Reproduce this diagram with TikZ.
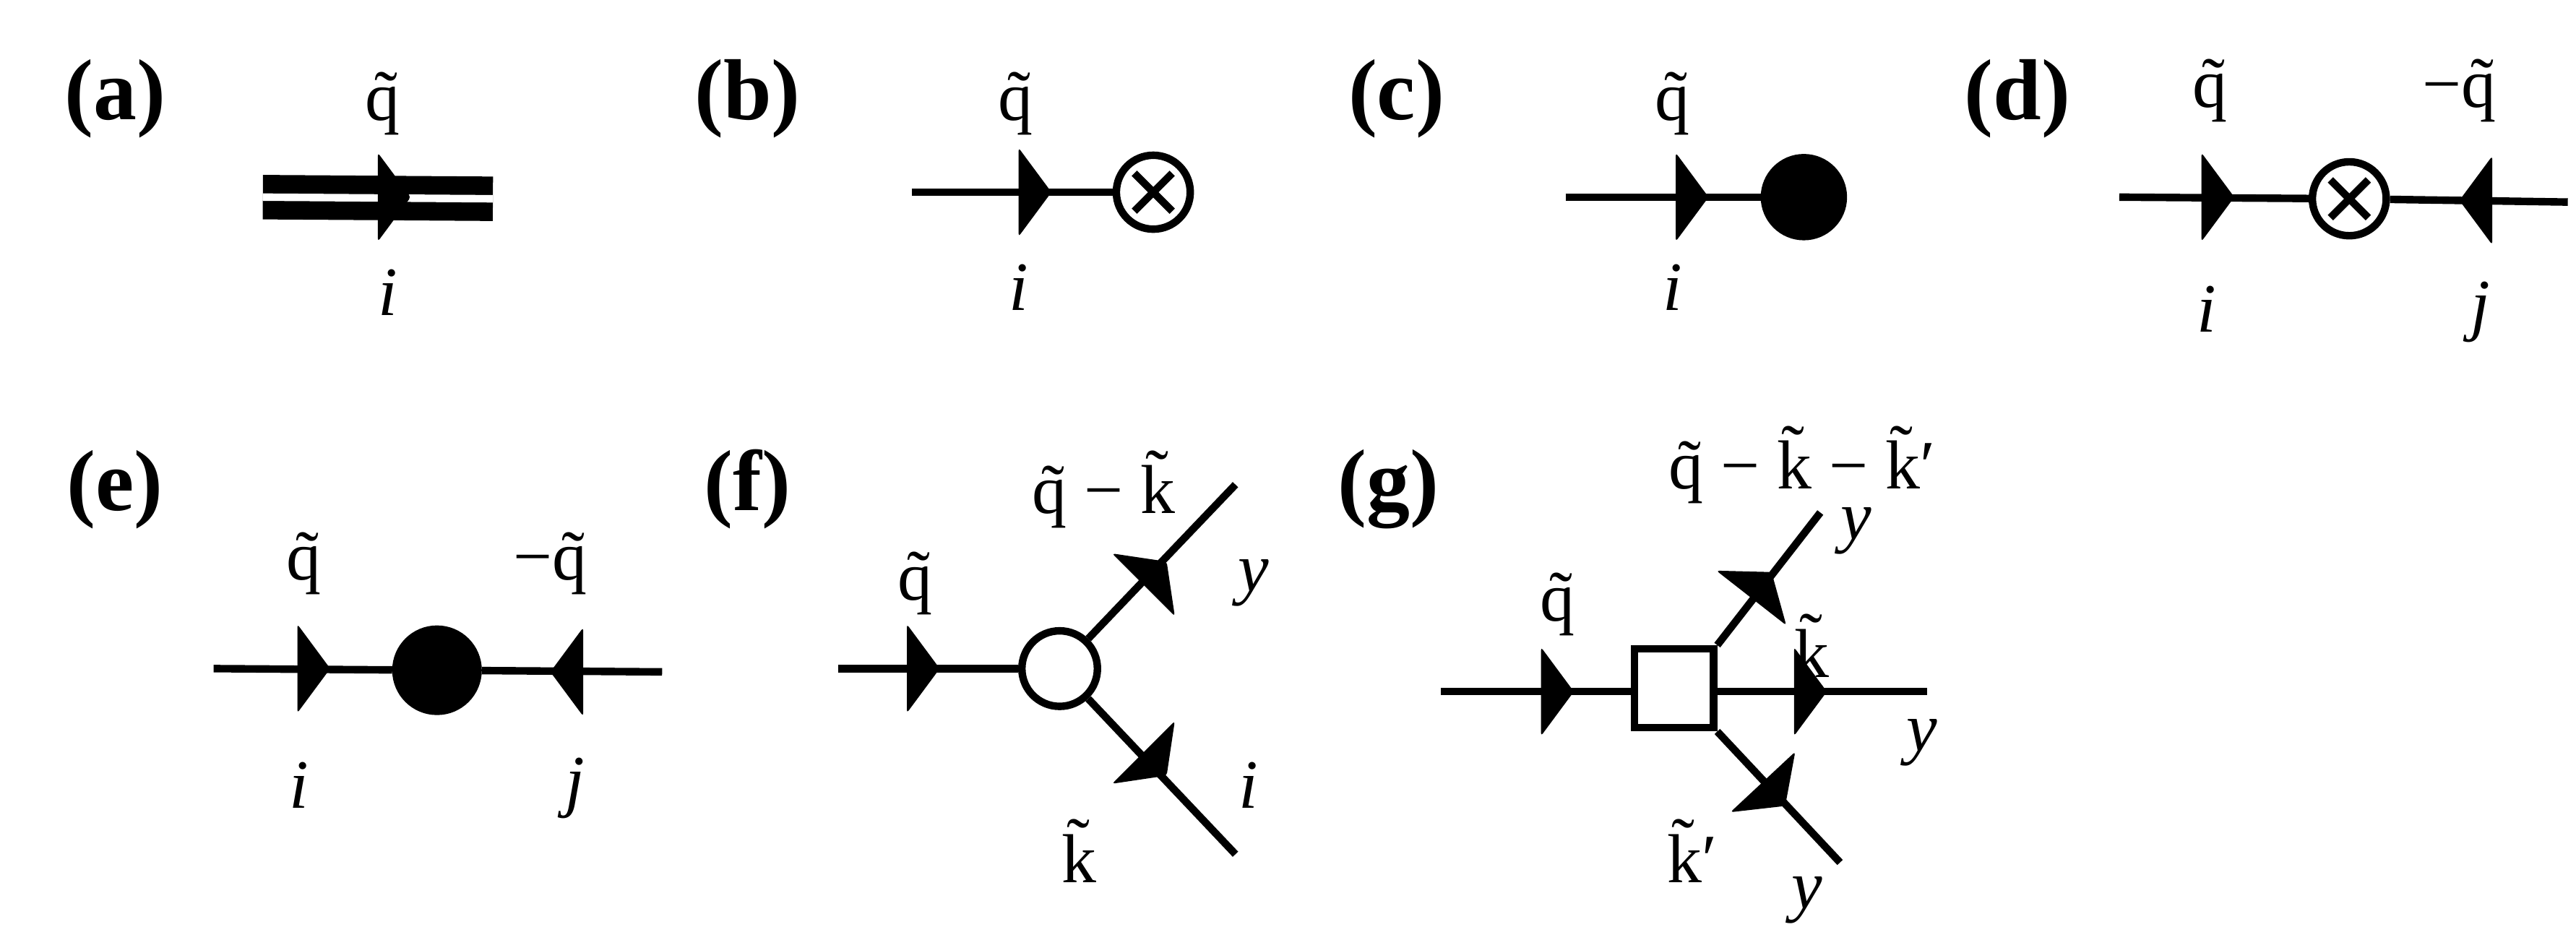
\documentclass[tikz,border=0pt]{standalone}
\usepackage{fontspec}
\setmainfont{Liberation Serif}
\usetikzlibrary{positioning, calc}
\newcommand{\qt}{\~q}
\newcommand{\kt}{\~k}

\begin{document}
\begin{tikzpicture}[
  x=0.02cm, y=0.02cm,
  ln/.style={line width=2.6pt},
  tag/.style={font=\fontsize{30}{30}\selectfont\bfseries},
  mom/.style={font=\fontsize{24}{24}\selectfont},
  idx/.style={font=\fontsize{24}{24}\selectfont\itshape},
  vtx/.style={circle, draw, line width=2.6pt, inner sep=0pt},
  flag/.pic={\fill[rounded corners=1pt] (0,27) -- (20,0) -- (0,-27) -- cycle;}
]
  \useasboundingbox (0,0) rectangle (1568,-572);

  % (a)
  \node[tag] (ta) at (70,-60) {(a)};
  \coordinate (a1) at (160,-120);
  \coordinate (a2) at (300,-121);
  \draw[line width=6.4pt, double, double distance=2.6pt] (a1) -- (a2);
  \pic at (230,-120) {flag};
  \node[mom] (qa) at (233,-63) {\qt};
  \node[idx] (ia) at (236,-178) {i};

  % (b)
  \node[tag] (tb) at (455,-60) {(b)};
  \coordinate (b1) at (555,-117);
  \node[vtx, minimum size=0.90cm, fill=white] (xb) at (702,-117) {};
  \draw[ln] (b1) -- (xb);
  \draw[ln] ($(xb.north west)+(6,-6)$) -- ($(xb.south east)+(-6,6)$);
  \draw[ln] ($(xb.north east)+(-6,-6)$) -- ($(xb.south west)+(6,6)$);
  \pic at (620,-117) {flag};
  \node[mom] (qb) at (618,-63) {\qt};
  \node[idx] (ib) at (620,-175) {i};

  % (c)
  \node[tag] (tc) at (850,-60) {(c)};
  \coordinate (c1) at (953,-120);
  \node[vtx, minimum size=0.96cm, fill=black] (dc) at (1098,-120) {};
  \draw[ln] (c1) -- (dc);
  \pic at (1020,-120) {flag};
  \node[mom] (qc) at (1018,-63) {\qt};
  \node[idx] (ic) at (1018,-175) {i};

  % (d)
  \node[tag] (td) at (1228,-60) {(d)};
  \coordinate (d1) at (1290,-120);
  \coordinate (d2) at (1563,-123);
  \node[vtx, minimum size=0.90cm, fill=white] (xd) at (1430,-121) {};
  \draw[ln] (d1) -- (xd) -- (d2);
  \draw[ln] ($(xd.north west)+(6,-6)$) -- ($(xd.south east)+(-6,6)$);
  \draw[ln] ($(xd.north east)+(-6,-6)$) -- ($(xd.south west)+(6,6)$);
  \pic at (1340,-120) {flag};
  \pic[rotate=180] at (1517,-122) {flag};
  \node[mom] (qd) at (1345,-55) {\qt};
  \node[mom] (md) at (1497,-55) {−\qt};
  \node[idx] (id) at (1343,-188) {i};
  \node[idx] (jd) at (1510,-190) {j};

  % (e)
  \node[tag] (te) at (70,-298) {(e)};
  \coordinate (e1) at (130,-407);
  \coordinate (e2) at (403,-409);
  \node[vtx, minimum size=1.00cm, fill=black] (de) at (266,-408) {};
  \draw[ln] (e1) -- (de) -- (e2);
  \pic at (181,-407) {flag};
  \pic[rotate=180] at (355,-409) {flag};
  \node[mom] (qe) at (185,-343) {\qt};
  \node[mom] (me) at (335,-343) {−\qt};
  \node[idx] (ie) at (182,-478) {i};
  \node[idx] (je) at (350,-480) {j};

  % (f)
  \node[tag] (tf) at (455,-298) {(f)};
  \coordinate (f1) at (510,-407);
  \coordinate (f2) at (752,-295);
  \coordinate (f3) at (752,-520);
  \node[vtx, minimum size=0.92cm, fill=white] (of) at (645,-407) {};
  \draw[ln] (f1) -- (of);
  \draw[ln] (of) -- (f2);
  \draw[ln] (of) -- (f3);
  \pic at (552,-407) {flag};
  \pic[rotate=45] at (696,-356) {flag};
  \pic[rotate=-45] at (696,-458) {flag};
  \node[mom] (qf) at (557,-355) {\qt};
  \node[mom] (pf) at (672,-298) {\qt\ − \kt};
  \node[idx] (yf) at (763,-355) {y};
  \node[idx] (if) at (760,-478) {i};
  \node[mom] (kf) at (657,-518) {\kt};

  % (g)
  \node[tag] (tg) at (845,-298) {(g)};
  \coordinate (g1) at (877,-421);
  \coordinate (g2) at (1173,-421);
  \coordinate (g3) at (1108,-312);
  \coordinate (g4) at (1120,-525);
  \node[draw, line width=2.6pt, minimum size=0.96cm, fill=white] (sg) at (1019,-419) {};
  \draw[ln] (g1) -- (sg.west |- g1);
  \draw[ln] (sg.east |- g2) -- (g2);
  \draw[ln] (sg.north east) -- (g3);
  \draw[ln] (sg.south east) -- (g4);
  \pic at (938,-421) {flag};
  \pic at (1092,-421) {flag};
  \pic[rotate=52] at (1066,-364) {flag};
  \pic[rotate=-47] at (1073,-476) {flag};
  \node[mom] (pg) at (1097,-283) {\qt\ − \kt\ − \kt′};
  \node[idx] (yg1) at (1130,-323) {y};
  \node[mom] (qg) at (948,-368) {\qt};
  \node[mom] (kg) at (1103,-393) {\kt};
  \node[idx] (yg2) at (1170,-452) {y};
  \node[mom] (lg) at (1030,-518) {\kt′};
  \node[idx] (yg3) at (1100,-548) {y};
\end{tikzpicture}
\end{document}
